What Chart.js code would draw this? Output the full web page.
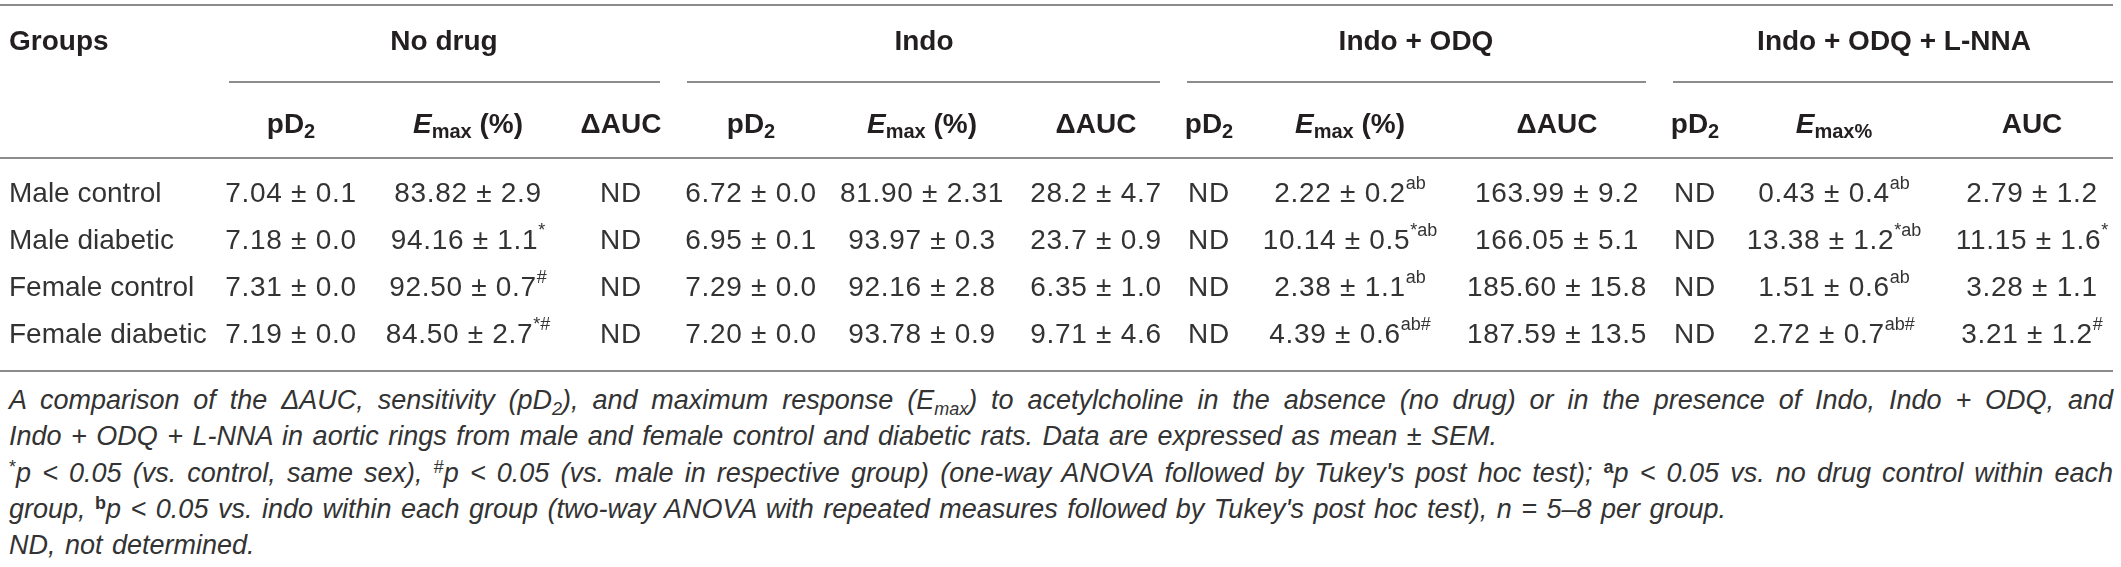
<!DOCTYPE html>
<html>
<head>
<meta charset="utf-8">
<script src="https://cdn.jsdelivr.net/npm/chart.js@4.4.1/dist/chart.umd.min.js"></script>
<style>
  body { margin: 0; background: #fff; }
  #wrap { width: 2121px; height: 567px; overflow: hidden; }
  .note { font: italic 27px "Liberation Sans", Arial, sans-serif; color: #333;
          height: 36.3px; line-height: 36.3px; margin-left: 9px; width: 2104px;
          white-space: nowrap; word-spacing: 2px; }
  .just { text-align: justify; text-align-last: justify; word-spacing: 0; }
  .note sup { font-size: 18px; vertical-align: 9px; line-height: 0; font-style: normal; }
  .note sub { font-size: 18px; vertical-align: -6px; line-height: 0; }
</style>
</head>
<body>
<div id="wrap">
  <canvas id="table" width="2121" height="382"></canvas>
  <div class="note just">A comparison of the &Delta;AUC, sensitivity (pD<sub>2</sub>), and maximum response (E<sub>max</sub>) to acetylcholine in the absence (no drug) or in the presence of Indo, Indo + ODQ, and</div>
  <div class="note">Indo + ODQ + L-NNA in aortic rings from male and female control and diabetic rats. Data are expressed as mean &plusmn; SEM.</div>
  <div class="note just"><sup>*</sup>p &lt; 0.05 (vs. control, same sex), <sup>#</sup>p &lt; 0.05 (vs. male in respective group) (one-way ANOVA followed by Tukey's post hoc test); <sup><b>a</b></sup>p &lt; 0.05 vs. no drug control within each</div>
  <div class="note">group, <sup><b>b</b></sup>p &lt; 0.05 vs. indo within each group (two-way ANOVA with repeated measures followed by Tukey's post hoc test), n = 5&ndash;8 per group.</div>
  <div class="note">ND, not determined.</div>
</div>
<script>
/* ---------- table values (a ^ starts the superscript) ---------- */
const groups = ["Male control", "Male diabetic", "Female control", "Female diabetic"];
const treatments = ["No drug", "Indo", "Indo + ODQ", "Indo + ODQ + L-NNA"];

const noDrugPD2 = ["7.04 ± 0.1", "7.18 ± 0.0", "7.31 ± 0.0", "7.19 ± 0.0"];
const noDrugEmax = ["83.82 ± 2.9", "94.16 ± 1.1^*", "92.50 ± 0.7^#", "84.50 ± 2.7^*#"];
const noDrugAUC = ["ND", "ND", "ND", "ND"];

const indoPD2 = ["6.72 ± 0.0", "6.95 ± 0.1", "7.29 ± 0.0", "7.20 ± 0.0"];
const indoEmax = ["81.90 ± 2.31", "93.97 ± 0.3", "92.16 ± 2.8", "93.78 ± 0.9"];
const indoAUC = ["28.2 ± 4.7", "23.7 ± 0.9", "6.35 ± 1.0", "9.71 ± 4.6"];

const odqPD2 = ["ND", "ND", "ND", "ND"];
const odqEmax = ["2.22 ± 0.2^ab", "10.14 ± 0.5^*ab", "2.38 ± 1.1^ab", "4.39 ± 0.6^ab#"];
const odqAUC = ["163.99 ± 9.2", "166.05 ± 5.1", "185.60 ± 15.8", "187.59 ± 13.5"];

const lnnaPD2 = ["ND", "ND", "ND", "ND"];
const lnnaEmax = ["0.43 ± 0.4^ab", "13.38 ± 1.2^*ab", "1.51 ± 0.6^ab", "2.72 ± 0.7^ab#"];
const lnnaAUC = ["2.79 ± 1.2", "11.15 ± 1.6^*", "3.28 ± 1.1", "3.21 ± 1.2^#"];

const columns = [noDrugPD2, noDrugEmax, noDrugAUC, indoPD2, indoEmax, indoAUC,
                 odqPD2, odqEmax, odqAUC, lnnaPD2, lnnaEmax, lnnaAUC];
// which sub-header each column gets
const subKinds = ["pD2", "Emax", "dAUC", "pD2", "Emax", "dAUC", "pD2", "Emax", "dAUC", "pD2", "Emax%", "AUC"];

/* ---------- layout (scale units = px of the reference) ---------- */
const colX = [291, 468, 621, 751, 922, 1096, 1209, 1350, 1557, 1695, 1834, 2032];
const headX = [444, 924, 1416, 1894];
const spans = [[229, 660], [687, 1160], [1187, 1646], [1673, 2113]];
const rowY = [194, 241, 288, 335];
const lines = { top: 5, head: 42, under: 82, sub: 125, rule: 158, bottom: 371 };
const leftX = 9, rightX = 2113;

const FAM = '"Liberation Sans", Arial, sans-serif';
const INK = "#231f20";
const BODY = "#333";
const RULE = "#8c8c8c";

function cellSegs(str) {
  const [main, sup] = str.split("^");
  const segs = [{ t: main, f: "28px " + FAM, dy: 0, ls: "0.7px" }];
  if (sup) segs.push({ t: sup, f: "18px " + FAM, dy: -10 });
  return segs;
}

function subSegs(kind) {
  const B = "bold 28px " + FAM, S = "bold 20px " + FAM, BI = "italic bold 28px " + FAM;
  if (kind === "pD2") return [{ t: "pD", f: B, dy: 0 }, { t: "2", f: S, dy: 7 }];
  if (kind === "Emax") return [{ t: "E", f: BI, dy: 0 }, { t: "max", f: S, dy: 7 }, { t: " (%)", f: B, dy: 0 }];
  if (kind === "Emax%") return [{ t: "E", f: BI, dy: 0 }, { t: "max%", f: S, dy: 7 }];
  if (kind === "dAUC") return [{ t: "ΔAUC", f: B, dy: 0 }];
  return [{ t: "AUC", f: B, dy: 0 }];
}

function drawRich(ctx, segs, x, y, align) {
  let w = 0;
  segs.forEach(s => {
    ctx.font = s.f;
    ctx.letterSpacing = s.ls || "0px";
    s.w = ctx.measureText(s.t).width;
    w += s.w;
  });
  let cx = align === "left" ? x : x - w / 2;
  segs.forEach(s => {
    ctx.font = s.f;
    ctx.letterSpacing = s.ls || "0px";
    ctx.fillText(s.t, cx, y + s.dy);
    cx += s.w;
  });
  ctx.letterSpacing = "0px";
}

const tablePlugin = {
  id: "tableText",
  afterDatasetsDraw(chart) {
    const ctx = chart.ctx;
    const xs = chart.scales.x, ys = chart.scales.y;
    ctx.save();
    ctx.fillStyle = INK;
    ctx.textBaseline = "middle";

    // rules
    ctx.strokeStyle = RULE;
    ctx.lineWidth = 2;
    const hline = (x0, x1, v) => {
      const py = Math.round(ys.getPixelForValue(v));
      ctx.beginPath();
      ctx.moveTo(xs.getPixelForValue(x0), py);
      ctx.lineTo(xs.getPixelForValue(x1), py);
      ctx.stroke();
    };
    hline(0, rightX, lines.top);
    hline(0, rightX, lines.rule);
    hline(0, rightX, lines.bottom);
    spans.forEach(s => hline(s[0], s[1], lines.under));

    // header rows
    const hy = ys.getPixelForValue(lines.head);
    drawRich(ctx, [{ t: "Groups", f: "bold 28px " + FAM, dy: 0 }], xs.getPixelForValue(leftX), hy, "left");
    treatments.forEach((t, i) =>
      drawRich(ctx, [{ t, f: "bold 28px " + FAM, dy: 0 }], xs.getPixelForValue(headX[i]), hy, "center"));
    const sy = ys.getPixelForValue(lines.sub);
    subKinds.forEach((k, i) => drawRich(ctx, subSegs(k), xs.getPixelForValue(colX[i]), sy, "center"));

    // body cells, placed at each dataset point
    ctx.fillStyle = BODY;
    chart.data.datasets.forEach((ds, di) => {
      chart.getDatasetMeta(di).data.forEach((pt, i) => {
        const segs = ds.align === "left"
          ? [{ t: ds.cells[i], f: "28px " + FAM, dy: 0 }]
          : cellSegs(ds.cells[i]);
        drawRich(ctx, segs, pt.x, pt.y, ds.align);
      });
    });
    ctx.restore();
  }
};

const datasets = [{
  cells: groups, align: "left",
  data: groups.map((g, i) => ({ x: leftX, y: rowY[i] }))
}].concat(columns.map((col, c) => ({
  cells: col, align: "center",
  data: col.map((v, i) => ({ x: colX[c], y: rowY[i] }))
})));

new Chart(document.getElementById("table"), {
  type: "scatter",
  plugins: [tablePlugin],
  data: { datasets: datasets.map(d => Object.assign(d, { pointRadius: 0, pointHoverRadius: 0 })) },
  options: {
    responsive: false,
    animation: false,
    events: [],
    layout: { padding: 0 },
    plugins: { legend: { display: false }, tooltip: { enabled: false } },
    scales: {
      x: { type: "linear", min: 0, max: 2121, display: false },
      y: { type: "linear", min: 0, max: 382, reverse: true, display: false }
    }
  }
});
</script>
</body>
</html>
